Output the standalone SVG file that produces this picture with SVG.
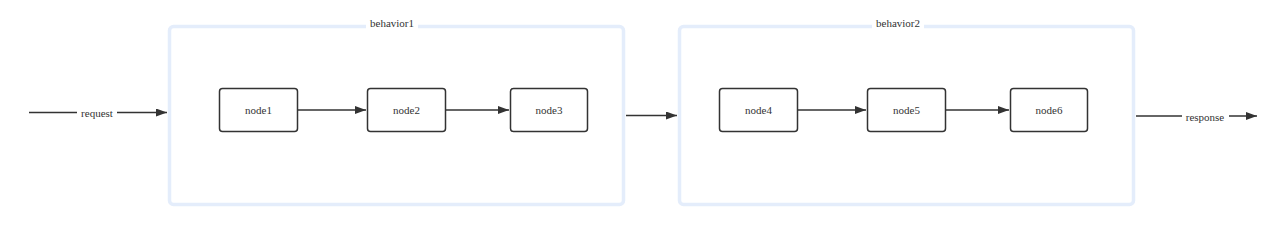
<svg xmlns="http://www.w3.org/2000/svg" width="1280" height="229" viewBox="0 0 1280 229">
<style>
.grp{fill:#fff;stroke:#e4edfb;stroke-width:3.5}
.node{fill:#fff;stroke:#333;stroke-width:1.5}
.t{font-family:'Liberation Serif','Times New Roman',serif;font-size:11px;fill:#333;text-anchor:middle;dominant-baseline:central}
.e{stroke:#333;stroke-width:1.5;fill:none}
</style>
<defs>
<marker id="ah" markerWidth="12" markerHeight="10" refX="11" refY="4" orient="auto" markerUnits="userSpaceOnUse">
<path d="M0,0 L11,4 L0,8 Z" fill="#333"/>
</marker>
</defs>
<rect width="1280" height="229" fill="#fff"/>
<g id="behavior1">
<rect class="grp" x="169.5" y="26.5" width="454" height="178" rx="4"/>
<rect x="366" y="18" width="52" height="12" fill="#fff"/>
<text class="t" x="392" y="23" font-family="Liberation Serif, serif">behavior1</text>
</g>
<g id="behavior2">
<rect class="grp" x="679.5" y="26.5" width="454" height="178" rx="4"/>
<rect x="872" y="18" width="52" height="12" fill="#fff"/>
<text class="t" x="898" y="23" font-family="Liberation Serif, serif">behavior2</text>
</g>
<g id="node1"><rect class="node" x="219.5" y="88.5" width="78" height="43" rx="3"/><text class="t" x="258.5" y="110" font-family="Liberation Serif, serif">node1</text></g>
<g id="node2"><rect class="node" x="367.5" y="88.5" width="78" height="43" rx="3"/><text class="t" x="406.5" y="110" font-family="Liberation Serif, serif">node2</text></g>
<g id="node3"><rect class="node" x="510.5" y="88.5" width="77" height="43" rx="3"/><text class="t" x="549" y="110" font-family="Liberation Serif, serif">node3</text></g>
<g id="node4"><rect class="node" x="719.5" y="88.5" width="78" height="43" rx="3"/><text class="t" x="758.5" y="110" font-family="Liberation Serif, serif">node4</text></g>
<g id="node5"><rect class="node" x="867.5" y="88.5" width="78" height="43" rx="3"/><text class="t" x="906.5" y="110" font-family="Liberation Serif, serif">node5</text></g>
<g id="node6"><rect class="node" x="1010.5" y="88.5" width="77" height="43" rx="3"/><text class="t" x="1049" y="110" font-family="Liberation Serif, serif">node6</text></g>
<g id="connectors">
<line class="e" x1="298" y1="110" x2="366" y2="110" marker-end="url(#ah)"/>
<line class="e" x1="446" y1="110" x2="509" y2="110" marker-end="url(#ah)"/>
<line class="e" x1="798" y1="110" x2="866" y2="110" marker-end="url(#ah)"/>
<line class="e" x1="946" y1="110" x2="1009" y2="110" marker-end="url(#ah)"/>
<line class="e" x1="626" y1="115.5" x2="677" y2="115.5" marker-end="url(#ah)"/>
<line class="e" x1="29" y1="112.5" x2="77" y2="112.5"/>
<line class="e" x1="117" y1="112.5" x2="167" y2="112.5" marker-end="url(#ah)"/>
<text class="t" x="97" y="113" font-family="Liberation Serif, serif">request</text>
<line class="e" x1="1136" y1="116" x2="1182" y2="116"/>
<line class="e" x1="1229" y1="116" x2="1257" y2="116" marker-end="url(#ah)"/>
<text class="t" x="1205" y="117" font-family="Liberation Serif, serif">response</text>
</g>
</svg>
